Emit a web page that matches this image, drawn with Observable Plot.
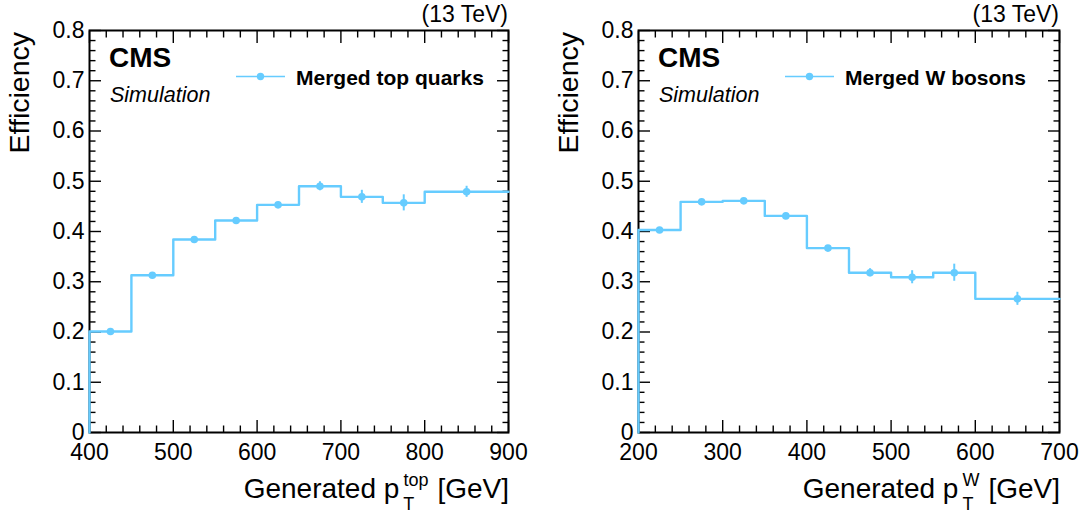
<!DOCTYPE html>
<html><head><meta charset="utf-8">
<script src="https://cdn.jsdelivr.net/npm/d3@7"></script>
<script src="https://cdn.jsdelivr.net/npm/@observablehq/plot@0.6"></script>
<style>body{margin:0;background:#fff} #wrap{display:flex;width:1087px;height:514px;overflow:hidden}</style>
</head><body><div id="wrap"></div>
<script>
// ---- data ----
const topEdges = [400, 450, 500, 550, 600, 650, 700, 750, 800, 900];
const topEff   = [0.201, 0.313, 0.384, 0.422, 0.453, 0.490, 0.469, 0.457, 0.479];
const topErr   = [0.003, 0.003, 0.003, 0.003, 0.004, 0.009, 0.013, 0.016, 0.011];
const wEdges   = [200, 250, 300, 350, 400, 450, 500, 550, 600, 700];
const wEff     = [0.403, 0.459, 0.461, 0.431, 0.367, 0.318, 0.309, 0.318, 0.266];
const wErr     = [0.003, 0.003, 0.003, 0.003, 0.004, 0.008, 0.013, 0.017, 0.013];
const yTicks   = [0, 0.1, 0.2, 0.3, 0.4, 0.5, 0.6, 0.7, 0.8];
const yLabels  = ["0", "0.1", "0.2", "0.3", "0.4", "0.5", "0.6", "0.7", "0.8"];
const topXTicks = [400, 500, 600, 700, 800, 900];
const wXTicks   = [200, 300, 400, 500, 600, 700];
const topLegend = "Merged top quarks";
const wLegend   = "Merged W bosons";
const topSup = "top", wSup = "W";

const COL = "#66ccff";
const FONT = "'Liberation Sans', Arial, Helvetica, sans-serif";
const cctx = document.createElement("canvas").getContext("2d");
function tw(s, size, style = "") { cctx.font = `${style} ${size}px ${FONT}`; return cctx.measureText(s).width; }

function minorTicks(major, n) {
  const out = [];
  for (let i = 0; i < major.length - 1; i++) {
    const a = major[i], b = major[i + 1];
    for (let k = 1; k < n; k++) out.push(a + (b - a) * k / n);
  }
  return out;
}

function panel({edges, eff, err, width, ml, mr, xTicks, sup, legend}) {
  const mt = 30, mb = 82, H = 514;
  const step = [{x: edges[0], y: 0}];
  eff.forEach((v, i) => { step.push({x: edges[i], y: v}, {x: edges[i + 1], y: v}); });
  const pts = eff.map((v, i) => ({x: (edges[i] + edges[i + 1]) / 2, y: v, e: err[i]}));
  const blank = () => "";
  const yMinor = minorTicks(yTicks, 5);
  const xMinor = minorTicks(xTicks, 5);
  const tk = {tickFormat: blank, label: null, strokeWidth: 1.4};
  const plot = Plot.plot({
    width, height: H, marginLeft: ml, marginRight: mr, marginTop: mt, marginBottom: mb,
    x: {domain: [edges[0], edges[edges.length - 1]]},
    y: {domain: [0, 0.8]},
    style: {fontFamily: FONT, fontSize: "23px", color: "#000", background: "#fff", overflow: "visible"},
    marks: [
      Plot.axisY(yMinor, {anchor: "left", tickSize: -6.5, ...tk}),
      Plot.axisY(yMinor, {anchor: "right", tickSize: -6.5, ...tk}),
      Plot.axisY(yTicks, {anchor: "left", tickSize: -12, ...tk}),
      Plot.axisY(yTicks, {anchor: "right", tickSize: -12, ...tk}),
      Plot.axisX(xMinor, {anchor: "bottom", tickSize: -6.5, ...tk}),
      Plot.axisX(xMinor, {anchor: "top", tickSize: -6.5, ...tk}),
      Plot.axisX(xTicks, {anchor: "bottom", tickSize: -12, ...tk}),
      Plot.axisX(xTicks, {anchor: "top", tickSize: -12, ...tk}),
      Plot.axisY(yTicks, {anchor: "left", tickSize: 0, tickPadding: 5, label: null,
        tickFormat: d => yLabels[yTicks.indexOf(d)], fontSize: 23}),
      Plot.axisX(xTicks, {anchor: "bottom", tickSize: 0, tickPadding: 11, label: null,
        tickFormat: d => String(d), fontSize: 23}),
      Plot.frame({stroke: "#000", strokeWidth: 2}),
      Plot.line(step, {x: "x", y: "y", stroke: COL, strokeWidth: 2.4}),
      Plot.ruleX(pts, {x: "x", y1: d => d.y - d.e, y2: d => d.y + d.e, stroke: COL, strokeWidth: 2}),
      Plot.dot(pts, {x: "x", y: "y", r: 3.8, fill: COL})
    ]
  });
  const svg = d3.select(plot);
  const g = svg.append("g").attr("font-family", FONT).attr("fill", "#000").attr("text-anchor", "start");
  const R = width - mr;
  g.append("text").attr("x", ml + 20).attr("y", 67).attr("font-size", 28).attr("font-weight", "bold").text("CMS");
  g.append("text").attr("x", ml + 21).attr("y", 102).attr("font-size", 21.5).attr("font-style", "italic").text("Simulation");
  g.append("line").attr("x1", ml + 147).attr("x2", ml + 196).attr("y1", 76.5).attr("y2", 76.5)
    .attr("stroke", COL).attr("stroke-width", 1.5);
  g.append("circle").attr("cx", ml + 171.5).attr("cy", 76.5).attr("r", 3.7).attr("fill", COL);
  g.append("text").attr("x", ml + 207).attr("y", 85).attr("font-size", 21).attr("font-weight", "bold").text(legend);
  g.append("text").attr("x", R).attr("y", 22).attr("font-size", 23).attr("text-anchor", "end").text("(13 TeV)");
  g.append("text").attr("transform", `translate(${ml - 60},${mt + 2}) rotate(-90)`)
    .attr("font-size", 28.5).attr("text-anchor", "end").text("Efficiency");
  const t = g.append("text").attr("x", R + 1).attr("y", 498).attr("font-size", 28).attr("text-anchor", "end");
  t.append("tspan").text("Generated p");
  t.append("tspan").attr("dx", 4).attr("dy", 12).attr("font-size", 18).text("T");
  t.append("tspan").attr("dx", -tw("T", 18)).attr("dy", -24).attr("font-size", 18).text(sup);
  t.append("tspan").attr("dy", 12).attr("dx", 9).text("[GeV]");
  return plot;
}

const wrap = document.getElementById("wrap");
wrap.append(panel({edges: topEdges, eff: topEff, err: topErr, width: 543, ml: 89, mr: 35, xTicks: topXTicks, sup: topSup, legend: topLegend}));
wrap.append(panel({edges: wEdges, eff: wEff, err: wErr, width: 544, ml: 95, mr: 28, xTicks: wXTicks, sup: wSup, legend: wLegend}));
</script>
</body></html>
